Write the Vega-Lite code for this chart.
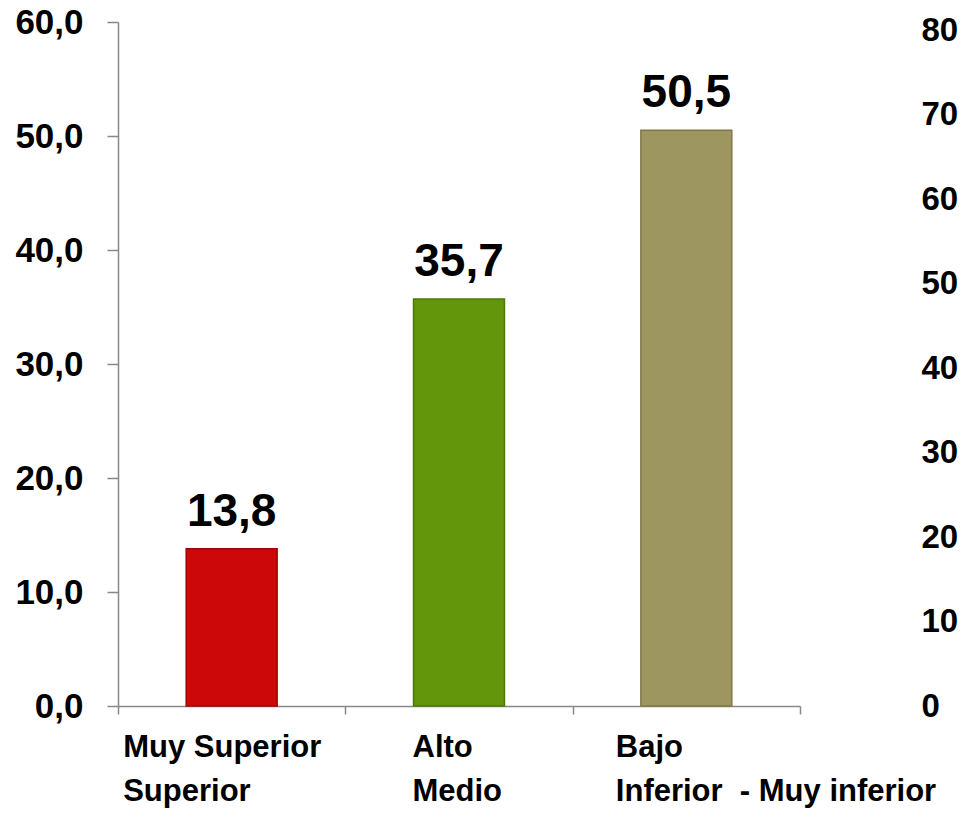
{
  "$schema": "https://vega.github.io/schema/vega-lite/v6.json",
  "width": 682,
  "height": 684,
  "autosize": {"type": "none"},
  "padding": {"left": 118, "top": 22, "right": 161, "bottom": 113},
  "background": "white",
  "config": {
    "view": {"stroke": null},
    "locale": {"number": {"decimal": ",", "thousands": ".", "grouping": [3], "currency": ["", " €"]}}
  },
  "data": {
    "values": [
      {"cat": "Muy Superior|Superior", "value": 13.8},
      {"cat": "Alto|Medio", "value": 35.7},
      {"cat": "Bajo|Inferior \u00a0- Muy inferior", "value": 50.5}
    ]
  },
  "layer": [
    {
      "encoding": {
        "x": {
          "field": "cat",
          "type": "nominal",
          "sort": null,
          "scale": {"paddingInner": 0, "paddingOuter": 0},
          "axis": {
            "orient": "bottom",
            "title": null,
            "labelAngle": 0,
            "tickBand": "extent",
            "tickSize": 8,
            "tickColor": "#888888",
            "tickWidth": 1.5,
            "domainColor": "#888888",
            "domainWidth": 1.5,
            "labelExpr": "datum.value ? split(datum.value, '|') : ''",
            "labelAlign": "left",
            "labelBaseline": "top",
            "labelFont": "Liberation Sans",
            "labelFontWeight": "bold",
            "labelFontSize": 31,
            "labelLineHeight": 44,
            "labelPadding": 18,
            "labelLimit": 0,
            "labelOverlap": false,
            "labelBound": false,
            "labelColor": "black",
            "labelOffset": {
              "condition": [
                {"test": "datum.value == 'Muy Superior|Superior'", "value": -109},
                {"test": "datum.value == 'Alto|Medio'", "value": -47}
              ],
              "value": -71
            }
          }
        },
        "y": {
          "field": "value",
          "type": "quantitative",
          "scale": {"domain": [0, 60], "nice": false},
          "axis": {
            "orient": "left",
            "title": null,
            "values": [0, 10, 20, 30, 40, 50, 60],
            "format": ".1f",
            "grid": false,
            "labelFont": "Liberation Sans",
            "labelFontWeight": "bold",
            "labelFontSize": 35,
            "labelColor": "black",
            "tickSize": 11,
            "tickColor": "#888888",
            "tickWidth": 1.5,
            "domainColor": "#888888",
            "domainWidth": 1.5,
            "labelPadding": 24
          }
        }
      },
      "layer": [
        {
          "mark": {"type": "bar", "strokeWidth": 1.5, "width": {"band": 0.4}},
          "encoding": {
            "color": {
              "field": "cat",
              "type": "nominal",
              "sort": null,
              "scale": {"range": ["#CC0808", "#64960C", "#9E9660"]},
              "legend": null
            },
            "stroke": {
              "field": "cat",
              "type": "nominal",
              "sort": null,
              "scale": {"range": ["#A00404", "#4C7808", "#7E7846"]},
              "legend": null
            }
          }
        },
        {
          "mark": {
            "type": "text",
            "font": "Liberation Sans",
            "fontWeight": "bold",
            "fontSize": 46,
            "baseline": "alphabetic",
            "dy": -23,
            "color": "black"
          },
          "encoding": {
            "text": {"field": "value", "type": "quantitative", "format": ".1f"}
          }
        }
      ]
    },
    {
      "mark": {"type": "rule", "opacity": 0},
      "encoding": {
        "y": {
          "datum": 0,
          "type": "quantitative",
          "scale": {"domain": [0, 81], "nice": false},
          "axis": {
            "orient": "right",
            "title": null,
            "values": [0, 10, 20, 30, 40, 50, 60, 70, 80],
            "format": "d",
            "grid": false,
            "domain": false,
            "ticks": false,
            "tickSize": 0,
            "labelPadding": 121,
            "labelFont": "Liberation Sans",
            "labelFontWeight": "bold",
            "labelFontSize": 33,
            "labelColor": "black",
            "labelBound": false
          }
        }
      }
    }
  ],
  "resolve": {"scale": {"y": "independent"}}
}
